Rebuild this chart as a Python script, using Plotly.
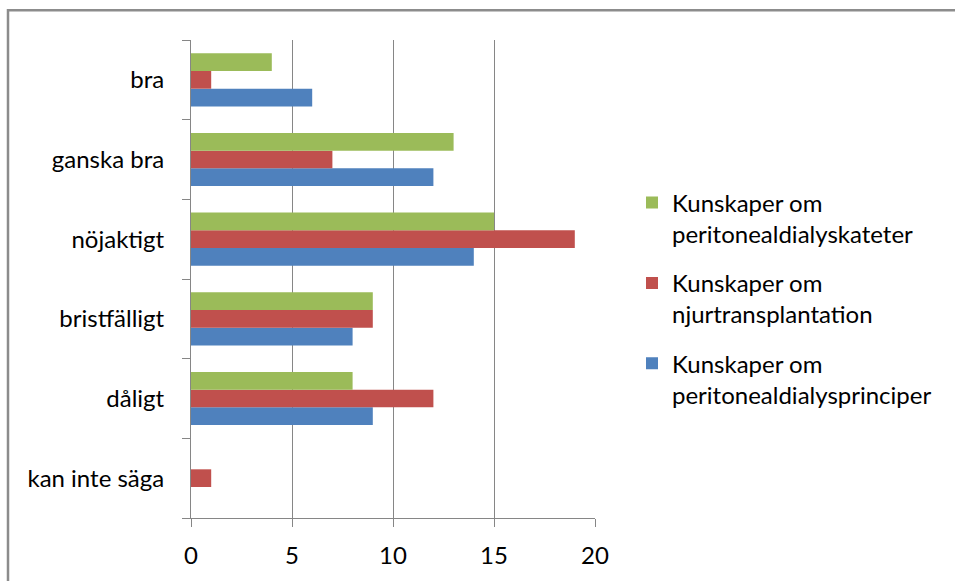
import plotly.graph_objects as go

categories = ["bra", "ganska bra", "nöjaktigt", "bristfälligt", "dåligt", "kan inte säga"]
name_blue = "Kunskaper om<br>peritonealdialysprinciper"
name_red = "Kunskaper om<br>njurtransplantation"
name_green = "Kunskaper om<br>peritonealdialyskateter"

vals_green = [4, 13, 15, 9, 8, 0]
vals_red = [1, 7, 19, 9, 12, 1]
vals_blue = [6, 12, 14, 8, 9, 0]

x_ticks = [0, 5, 10, 15, 20]

W, H = 955, 581
L, R, T, B = 191, 360, 40, 61
pw, ph = W - L - R, H - T - B


def px(x):
    return (x - L) / pw


def py(y):
    return (H - B - y) / ph


FONT = "Lato, Calibri, sans-serif"
FS = 24
COL_BLUE, COL_RED, COL_GREEN = "#4F81BD", "#C0504D", "#9BBB59"

fig = go.Figure()
for i, (name, vals, col) in enumerate([(name_blue, vals_blue, COL_BLUE),
                                       (name_red, vals_red, COL_RED),
                                       (name_green, vals_green, COL_GREEN)]):
    fig.add_trace(go.Bar(
        y=categories, x=vals, name=name, orientation="h", legendgroup=f"g{i}",
        legendrank=3 - i,
        marker=dict(color=col, line=dict(width=0)),
    ))

fig.update_layout(
    width=W, height=H,
    margin=dict(l=L, r=R, t=T, b=B, pad=0),
    paper_bgcolor="white", plot_bgcolor="white",
    barmode="group", bargap=0.333, bargroupgap=0,
    font=dict(family=FONT, size=FS, color="#000000"),
    showlegend=True,
    legend=dict(
        traceorder="grouped", valign="top",
        x=px(632), y=py(181), xanchor="left", yanchor="top",
        font=dict(family=FONT, size=FS, color="#000000"),
        tracegroupgap=15, itemwidth=30,
        bgcolor="rgba(0,0,0,0)",
    ),
    xaxis=dict(
        range=[0, 20], tickvals=x_ticks, ticks="outside", ticklen=8,
        tickcolor="#868686", showline=True, linecolor="#868686", linewidth=1,
        showgrid=True, gridcolor="#868686", gridwidth=1, zeroline=False,
        tickfont=dict(family=FONT, size=FS), ticklabelstandoff=8,
    ),
    yaxis=dict(
        categoryorder="array", categoryarray=categories[::-1],
        tickson="boundaries", ticks="outside", ticklen=8, tickcolor="#868686",
        showline=True, linecolor="#868686", linewidth=1, showgrid=False,
        tickfont=dict(family=FONT, size=FS), ticklabelstandoff=21,
    ),
    shapes=[dict(type="rect", xref="paper", yref="paper",
                 x0=px(8), x1=px(970), y0=py(600), y1=py(10),
                 line=dict(color="#8c8c8c", width=2.5), layer="above")],
)

fig.write_html("out.html")
